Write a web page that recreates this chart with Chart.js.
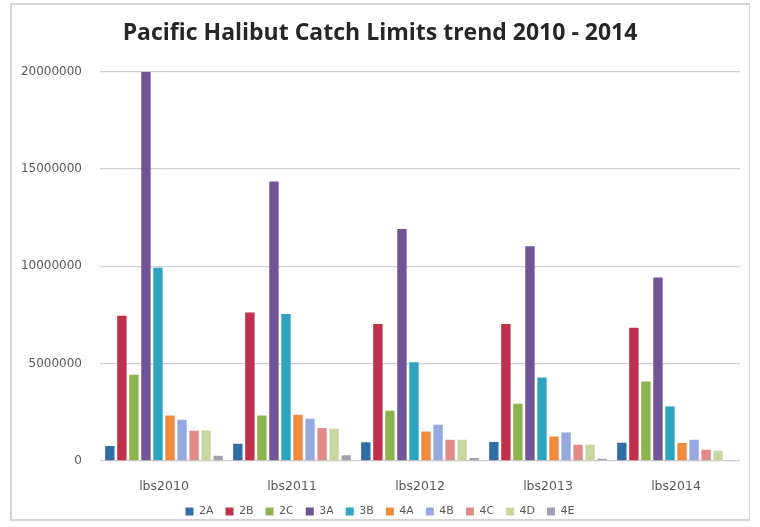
<!DOCTYPE html>
<html>
<head>
<meta charset="utf-8">
<title>Pacific Halibut Catch Limits</title>
<script src="https://cdn.jsdelivr.net/npm/chart.js@4"></script>
<style>
  html, body { margin: 0; padding: 0; background: #fff; }
  #frame {
    position: absolute; left: 10px; top: 3px; width: 740px; height: 518px;
    border: 2px solid #d4d4d4; border-right-width: 1px; box-sizing: border-box; background: #fff;
  }
  #wrap { position: absolute; left: 0; top: 0; width: 760px; height: 527px; }
</style>
</head>
<body>
<div id="frame"></div>
<div id="wrap"><canvas id="catch-chart" width="760" height="527"></canvas></div>
<script>
// catch limits by regulatory area, in pounds
const years = ['lbs2010', 'lbs2011', 'lbs2012', 'lbs2013', 'lbs2014'];
const areas = ['2A', '2B', '2C', '3A', '3B', '4A', '4B', '4C', '4D', '4E'];

const area2A = [770000, 880000, 960000, 970000, 940000];
const area2B = [7460000, 7630000, 7040000, 7040000, 6850000];
const area2C = [4430000, 2340000, 2580000, 2940000, 4090000];
const area3A = [19990000, 14360000, 11920000, 11030000, 9430000];
const area3B = [9930000, 7550000, 5070000, 4290000, 2800000];
const area4A = [2340000, 2380000, 1520000, 1260000, 920000];
const area4B = [2120000, 2170000, 1860000, 1470000, 1090000];
const area4C = [1560000, 1690000, 1090000, 840000, 580000];
const area4D = [1570000, 1660000, 1090000, 840000, 530000];
const area4E = [270000, 290000, 150000, 120000, 50000];

const yTicks = [0, 5000000, 10000000, 15000000, 20000000];

(function() {
  'use strict';

  const series = [area2A, area2B, area2C, area3A, area3B, area4A, area4B, area4C, area4D, area4E];
  const colors = [
    '#2f6ea6', '#c0304a', '#8db44f', '#6f5499', '#2ea3c2',
    '#f08a3c', '#95a8e0', '#e08a8a', '#c6d89f', '#a39fb3'
  ];
  const textColor = '#595959';
  const gridColor = '#cfcfcf';

  new Chart(document.getElementById('catch-chart'), {
    type: 'bar',
    data: {
      labels: years,
      datasets: series.map((values, i) => ({
        label: areas[i],
        data: values,
        backgroundColor: colors[i],
        borderWidth: 0,
        categoryPercentage: 0.94,
        barPercentage: 0.78
      }))
    },
    options: {
      responsive: false,
      animation: false,
      layout: { padding: { left: 20, right: 20, top: 0, bottom: 0 } },
      plugins: {
        title: {
          display: true,
          text: 'Pacific Halibut Catch Limits trend 2010 - 2014',
          color: '#262626',
          font: { family: 'Open Sans', size: 23, weight: 'bold' },
          padding: { top: 19.2, bottom: 24.9 }
        },
        legend: {
          position: 'bottom',
          labels: {
            color: textColor,
            font: { family: 'DejaVu Sans', size: 11 },
            boxWidth: 8,
            boxHeight: 8,
            padding: 12
          }
        },
        tooltip: { enabled: false }
      },
      scales: {
        x: {
          grid: { display: false },
          border: { display: false },
          ticks: { color: textColor, font: { family: 'DejaVu Sans', size: 12.5 }, padding: 10 },
          afterFit: (scale) => { scale.height = 33; }
        },
        y: {
          min: 0,
          max: 20000000,
          afterBuildTicks: (scale) => { scale.ticks = yTicks.map(v => ({ value: v })); },
          grid: { color: gridColor, lineWidth: 1.3, drawTicks: false },
          border: { display: false },
          ticks: {
            color: textColor,
            font: { family: 'DejaVu Sans', size: 12 },
            padding: 18,
            callback: (v) => String(v)
          },
          afterFit: (scale) => { scale.width = 80; }
        }
      }
    }
  });
})();
</script>
</body>
</html>
